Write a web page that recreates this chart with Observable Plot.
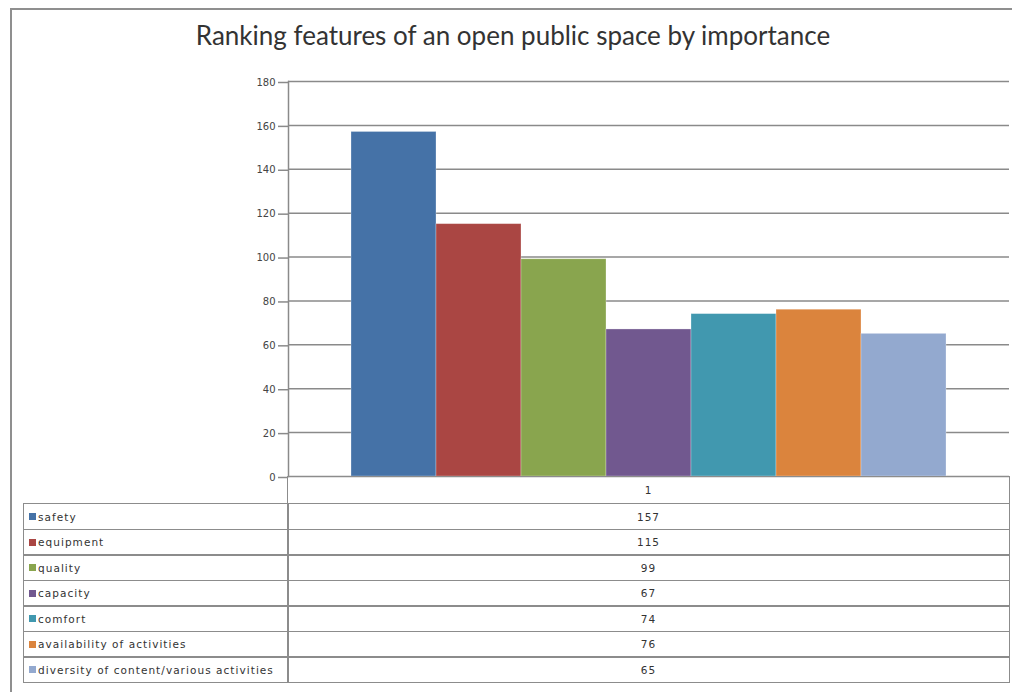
<!DOCTYPE html>
<html>
<head>
<meta charset="utf-8">
<script src="https://cdn.jsdelivr.net/npm/d3@7"></script>
<script src="https://cdn.jsdelivr.net/npm/@observablehq/plot@0.6"></script>
<style>
  html, body { margin: 0; padding: 0; background: #fff; }
  #root { position: relative; width: 1012px; height: 692px; overflow: hidden; font-family: "DejaVu Sans", sans-serif; }
  #root svg { position: absolute; left: 0; top: 0; }
  .abs { position: absolute; box-sizing: border-box; }
  .title { left: 0; width: 1026px; top: 19px; text-align: center; font-family: Lato, sans-serif; font-size: 26px; line-height: 32px; color: #333; white-space: nowrap; }
  .frameTop { left: 10px; top: 8px; width: 1002px; height: 2px; background: #8f8f8f; }
  .frameLeft { left: 10px; top: 8px; width: 2px; height: 684px; background: #8f8f8f; }
  .cell { border: 1.5px solid #8c8c8c; }
  .lbl { font-size: 10.5px; letter-spacing: 1.05px; color: #333; display: flex; align-items: center; padding-left: 5px; white-space: nowrap; }
  .key { width: 7px; height: 7px; margin-right: 2px; flex: none; }
  .val { font-size: 10.5px; letter-spacing: 1px; color: #333; display: flex; align-items: center; justify-content: center; }
</style>
</head>
<body>
<div id="root"></div>
<script>
const title = "Ranking features of an open public space by importance";
const categories = ["safety", "equipment", "quality", "capacity", "comfort", "availability of activities", "diversity of content/various activities"];
const values = [157, 115, 99, 67, 74, 76, 65];
const colors = ["#4572A7", "#AA4643", "#89A54E", "#71588F", "#4198AF", "#DB843D", "#93A9CF"];
const yTicks = [0, 20, 40, 60, 80, 100, 120, 140, 160, 180];
const seriesName = "1";

const data = categories.map((c, i) => ({category: c, value: values[i]}));
const root = document.getElementById("root");

const marginLeft = 288, marginRight = 3, marginTop = 81, marginBottom = 216;

const chart = Plot.plot({
  width: 1012,
  height: 692,
  marginLeft, marginRight, marginTop, marginBottom,
  style: {background: "transparent", fontFamily: "DejaVu Sans, sans-serif", fontSize: "10px", color: "#444"},
  x: {domain: categories, paddingInner: 0, paddingOuter: 0.74, axis: null},
  y: {domain: [0, 180], ticks: yTicks},
  color: {domain: categories, range: colors},
  marks: [
    Plot.gridY(yTicks, {stroke: "#8a8a8a", strokeOpacity: 1, strokeWidth: 1.5}),
    Plot.barY(data, {x: "category", y: "value", fill: "category", stroke: "#ffffff", strokeOpacity: 0.35, strokeWidth: 0.8}),
    Plot.axisY(yTicks, {tickSize: 10, tickPadding: 3, stroke: "#8a8a8a", strokeWidth: 1.5, label: null, fill: "#444", dy: 1}),
    Plot.frame({anchor: "left", stroke: "#8a8a8a", strokeWidth: 1.5})
  ]
});
root.appendChild(chart);

function add(cls, style, html) {
  const d = document.createElement("div");
  d.className = "abs " + cls;
  Object.assign(d.style, style);
  if (html !== undefined) d.innerHTML = html;
  root.appendChild(d);
  return d;
}

add("frameTop", {});
add("frameLeft", {});
add("title", {}).textContent = title;

// data table under the chart
const tableLeft = 23, splitX = marginLeft - 1, tableRight = 1010;
const headerTop = 692 - marginBottom, rowsTop = 503, rowH = 25.57;
add("cell val", {left: splitX + "px", top: headerTop + "px", width: (tableRight - splitX) + "px", height: (rowsTop - headerTop + 1) + "px"}).textContent = seriesName;
categories.forEach((c, i) => {
  const top = rowsTop + i * rowH;
  const l = add("cell lbl", {left: tableLeft + "px", top: top + "px", width: (splitX - tableLeft + 1.5) + "px", height: (rowH + 1.5) + "px"});
  const k = document.createElement("span");
  k.className = "key";
  k.style.background = colors[i];
  l.appendChild(k);
  const t = document.createElement("span");
  t.textContent = c;
  l.appendChild(t);
  add("cell val", {left: splitX + "px", top: top + "px", width: (tableRight - splitX) + "px", height: (rowH + 1.5) + "px"}).textContent = String(values[i]);
});
</script>
</body>
</html>
